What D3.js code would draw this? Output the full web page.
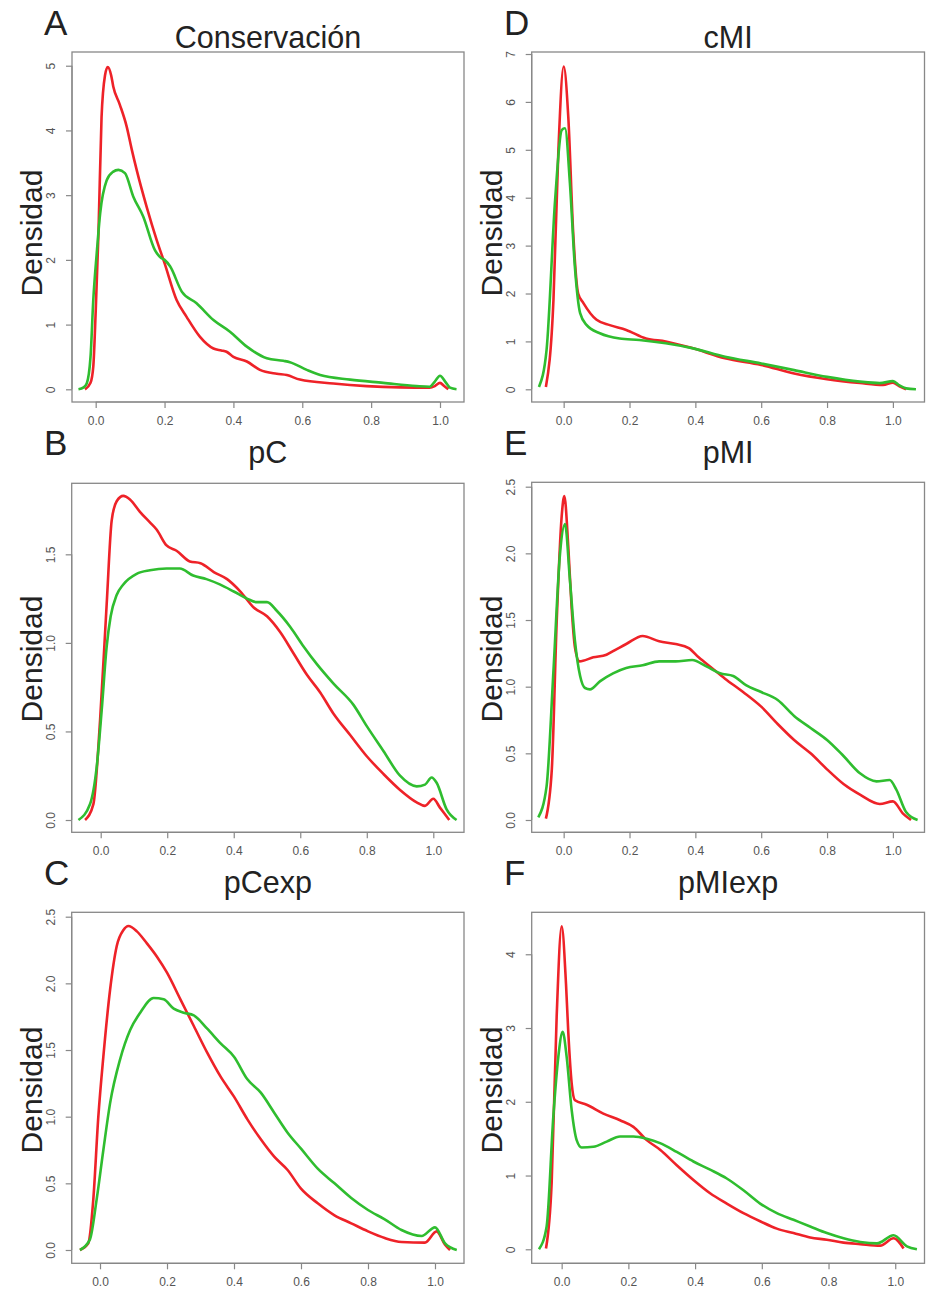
<!DOCTYPE html>
<html>
<head>
<meta charset="utf-8">
<script src="https://cdn.jsdelivr.net/npm/d3@7"></script>
<style>
  html, body { margin: 0; padding: 0; background: #ffffff; }
  svg { display: block; }
  text { font-family: "Liberation Sans", Arial, Helvetica, sans-serif; }
</style>
</head>
<body>
<svg id="chart" width="926" height="1295"></svg>
<script>
// ---------------- DATA ----------------
const panelLetters = ["A", "D", "B", "E", "C", "F"];
const panelTitles = ["Conservación", "cMI", "pC", "pMI", "pCexp", "pMIexp"];
const yAxisLabel = "Densidad";
const seriesNames = ["rojo", "verde"];

const xTickValues = [0, 0.2, 0.4, 0.6, 0.8, 1.0];
const yTicksConservacion = [0, 1, 2, 3, 4, 5];
const yTicksCMI = [0, 1, 2, 3, 4, 5, 6, 7];
const yTicksPC = [0, 0.5, 1.0, 1.5];
const yTicksPMI = [0, 0.5, 1.0, 1.5, 2.0, 2.5];
const yTicksPCexp = [0, 0.5, 1.0, 1.5, 2.0, 2.5];
const yTicksPMIexp = [0, 1, 2, 3, 4];

// [x, densidad]
const conservacionRojo = [[-0.031,0],[-0.015,0.1],[-0.007,0.35],[0.0,1.2],[0.008,2.4],[0.017,4.2],[0.027,4.85],[0.035,4.98],[0.045,4.85],[0.051,4.68],[0.07,4.4],[0.09,4.06],[0.105,3.7],[0.119,3.39],[0.148,2.82],[0.177,2.31],[0.2,1.95],[0.235,1.38],[0.264,1.12],[0.303,0.81],[0.342,0.63],[0.365,0.6],[0.38,0.58],[0.4,0.5],[0.439,0.43],[0.477,0.3],[0.526,0.24],[0.555,0.22],[0.593,0.15],[0.69,0.09],[0.787,0.05],[0.884,0.03],[0.97,0.025],[0.985,0.05],[1.0,0.1],[1.012,0.05],[1.024,0]];
const conservacionVerde = [[-0.05,0],[-0.035,0.03],[-0.026,0.09],[-0.015,0.5],[-0.007,1.38],[0.003,2.1],[0.013,2.72],[0.032,3.23],[0.05,3.36],[0.066,3.39],[0.085,3.34],[0.109,2.98],[0.138,2.67],[0.172,2.15],[0.19,2.03],[0.2,2.0],[0.216,1.9],[0.25,1.51],[0.293,1.33],[0.342,1.07],[0.39,0.89],[0.439,0.66],[0.497,0.48],[0.545,0.44],[0.564,0.42],[0.613,0.3],[0.652,0.22],[0.739,0.15],[0.835,0.1],[0.932,0.05],[0.97,0.04],[0.985,0.12],[1.0,0.21],[1.015,0.12],[1.029,0.025],[1.048,0]];

const cmiRojo = [[-0.054,0.05],[-0.031,1.87],[-0.016,5.0],[0.0,6.74],[0.014,5.69],[0.029,3.26],[0.044,2.0],[0.06,1.8],[0.1,1.45],[0.14,1.34],[0.19,1.24],[0.25,1.06],[0.31,1.0],[0.39,0.86],[0.49,0.65],[0.6,0.51],[0.7,0.33],[0.8,0.21],[0.9,0.13],[0.97,0.09],[1.0,0.14],[1.02,0.06],[1.04,0]];
const cmiVerde = [[-0.075,0.05],[-0.052,0.82],[-0.026,3.95],[-0.006,5.41],[0.004,5.45],[0.019,4.3],[0.034,2.56],[0.05,1.59],[0.07,1.34],[0.11,1.17],[0.17,1.06],[0.23,1.03],[0.31,0.96],[0.39,0.86],[0.49,0.68],[0.6,0.54],[0.7,0.4],[0.8,0.26],[0.9,0.16],[0.96,0.13],[1.0,0.17],[1.02,0.08],[1.04,0.02],[1.07,0]];

const pcRojo = [[-0.047,0],[-0.022,0.09],[-0.002,0.56],[0.018,1.22],[0.033,1.69],[0.048,1.8],[0.068,1.83],[0.088,1.81],[0.118,1.74],[0.148,1.68],[0.168,1.64],[0.198,1.55],[0.228,1.52],[0.268,1.46],[0.3,1.45],[0.34,1.4],[0.38,1.36],[0.42,1.29],[0.46,1.2],[0.5,1.15],[0.54,1.06],[0.58,0.94],[0.62,0.82],[0.66,0.72],[0.7,0.6],[0.75,0.48],[0.8,0.36],[0.85,0.26],[0.9,0.17],[0.95,0.1],[0.975,0.08],[1.0,0.12],[1.02,0.07],[1.048,0]];
const pcVerde = [[-0.067,0],[-0.032,0.09],[-0.012,0.3],[0.003,0.62],[0.018,0.98],[0.03,1.15],[0.048,1.27],[0.068,1.33],[0.108,1.39],[0.148,1.41],[0.198,1.42],[0.238,1.42],[0.278,1.38],[0.318,1.36],[0.358,1.33],[0.4,1.29],[0.44,1.25],[0.47,1.23],[0.5,1.23],[0.53,1.18],[0.57,1.09],[0.61,0.98],[0.65,0.88],[0.7,0.77],[0.76,0.65],[0.8,0.53],[0.85,0.39],[0.9,0.25],[0.95,0.19],[0.975,0.2],[0.995,0.24],[1.01,0.21],[1.04,0.06],[1.07,0]];

const pmiRojo = [[-0.054,0.01],[-0.036,0.38],[-0.021,1.5],[-0.006,2.28],[0.002,2.43],[0.014,2.05],[0.024,1.6],[0.034,1.3],[0.048,1.19],[0.09,1.22],[0.13,1.24],[0.16,1.28],[0.19,1.32],[0.24,1.38],[0.29,1.34],[0.34,1.32],[0.38,1.29],[0.41,1.22],[0.45,1.14],[0.49,1.06],[0.545,0.96],[0.6,0.85],[0.65,0.72],[0.7,0.6],[0.75,0.5],[0.8,0.38],[0.85,0.27],[0.9,0.19],[0.96,0.12],[1.0,0.14],[1.03,0.05],[1.055,0]];
const pmiVerde = [[-0.077,0.02],[-0.052,0.25],[-0.031,1.12],[-0.011,2.0],[0.004,2.22],[0.019,1.8],[0.034,1.35],[0.05,1.08],[0.065,0.99],[0.08,0.98],[0.11,1.04],[0.15,1.1],[0.19,1.14],[0.24,1.16],[0.29,1.19],[0.34,1.19],[0.39,1.2],[0.435,1.15],[0.475,1.1],[0.515,1.08],[0.555,1.01],[0.6,0.96],[0.65,0.9],[0.7,0.78],[0.75,0.69],[0.8,0.6],[0.85,0.48],[0.9,0.35],[0.95,0.29],[0.99,0.3],[1.01,0.23],[1.04,0.06],[1.075,0]];

const pcexpRojo = [[-0.06,0],[-0.035,0.05],[-0.02,0.38],[-0.005,1.0],[0.01,1.45],[0.03,1.95],[0.05,2.28],[0.07,2.4],[0.085,2.43],[0.11,2.39],[0.14,2.3],[0.17,2.2],[0.2,2.08],[0.24,1.88],[0.28,1.68],[0.32,1.48],[0.36,1.3],[0.4,1.15],[0.44,0.98],[0.48,0.83],[0.52,0.7],[0.56,0.6],[0.6,0.46],[0.65,0.35],[0.7,0.26],[0.75,0.2],[0.8,0.14],[0.85,0.09],[0.9,0.06],[0.97,0.055],[1.005,0.14],[1.03,0.04],[1.045,0]];
const pcexpVerde = [[-0.06,0],[-0.03,0.08],[-0.01,0.38],[0.01,0.75],[0.03,1.1],[0.06,1.43],[0.09,1.65],[0.12,1.78],[0.16,1.89],[0.19,1.88],[0.22,1.81],[0.25,1.78],[0.28,1.76],[0.32,1.66],[0.36,1.55],[0.4,1.45],[0.44,1.28],[0.48,1.18],[0.52,1.03],[0.56,0.88],[0.6,0.76],[0.65,0.61],[0.7,0.5],[0.75,0.39],[0.8,0.3],[0.85,0.23],[0.9,0.15],[0.96,0.105],[1.0,0.17],[1.03,0.05],[1.065,0]];

const pmiexpRojo = [[-0.047,0.01],[-0.03,0.9],[-0.015,3.15],[0.0,4.38],[0.013,3.6],[0.02,2.93],[0.03,2.25],[0.04,2.02],[0.075,1.96],[0.125,1.84],[0.175,1.75],[0.215,1.66],[0.255,1.48],[0.295,1.35],[0.345,1.14],[0.395,0.94],[0.445,0.76],[0.495,0.62],[0.545,0.49],[0.595,0.38],[0.645,0.28],[0.695,0.22],[0.745,0.16],[0.795,0.13],[0.845,0.09],[0.895,0.07],[0.955,0.05],[0.995,0.15],[1.025,0.01]];
const pmiexpVerde = [[-0.068,0],[-0.045,0.31],[-0.025,1.8],[-0.01,2.61],[0.003,2.95],[0.015,2.61],[0.03,1.89],[0.045,1.48],[0.06,1.38],[0.095,1.39],[0.135,1.46],[0.175,1.53],[0.215,1.53],[0.255,1.5],[0.295,1.44],[0.345,1.32],[0.395,1.19],[0.445,1.08],[0.495,0.96],[0.545,0.8],[0.595,0.62],[0.645,0.49],[0.695,0.4],[0.745,0.31],[0.795,0.22],[0.845,0.15],[0.895,0.1],[0.945,0.08],[0.995,0.19],[1.035,0.04],[1.065,0]];

// ---------------- LAYOUT ----------------
const COLORS = { rojo: "#ee2228", verde: "#2fbd2f" };
const layout = [
  { box: [72, 52, 464, 402],    xd: [-0.0688, 1.0697], yd: [-0.196, 5.212], yTicks: yTicksConservacion, fmt: d3.format("d"),   red: conservacionRojo, green: conservacionVerde, letterX: 44,  letterY: 35,  titleY: 48,  ylabX: 41.5,  ylabY: 233 },
  { box: [531.7, 52, 924.5, 402], xd: [-0.0971, 1.096], yd: [-0.265, 7.042], yTicks: yTicksCMI, fmt: d3.format("d"),          red: cmiRojo, green: cmiVerde,                   letterX: 504, letterY: 35,  titleY: 48,  ylabX: 501.5, ylabY: 233 },
  { box: [71.7, 483.3, 464, 832.3], xd: [-0.0872, 1.0923], yd: [-0.0694, 1.901], yTicks: yTicksPC, fmt: d3.format(".1f"),     red: pcRojo, green: pcVerde,                     letterX: 44,  letterY: 455, titleY: 463, ylabX: 41.5,  ylabY: 659 },
  { box: [531.7, 482.3, 924.5, 832.3], xd: [-0.0971, 1.096], yd: [-0.0923, 2.533], yTicks: yTicksPMI, fmt: d3.format(".1f"),  red: pmiRojo, green: pmiVerde,                   letterX: 504, letterY: 455, titleY: 463, ylabX: 501.5, ylabY: 659 },
  { box: [71.7, 912.3, 464, 1263.3], xd: [-0.0845, 1.0866], yd: [-0.0998, 2.533], yTicks: yTicksPCexp, fmt: d3.format(".1f"), red: pcexpRojo, green: pcexpVerde,               letterX: 44,  letterY: 885, titleY: 893, ylabX: 41.5,  ylabY: 1090 },
  { box: [531.7, 912.3, 924.5, 1263.3], xd: [-0.0898, 1.0877], yd: [-0.19, 4.569], yTicks: yTicksPMIexp, fmt: d3.format("d"),  red: pmiexpRojo, green: pmiexpVerde,            letterX: 504, letterY: 885, titleY: 893, ylabX: 501.5, ylabY: 1090 }
];

// ---------------- DRAW ----------------
const svg = d3.select("#chart");
svg.append("rect").attr("width", 926).attr("height", 1295).attr("fill", "#fff");

layout.forEach((p, i) => {
  const [x0, y0, x1, y1] = p.box;
  const x = d3.scaleLinear().domain(p.xd).range([x0, x1]);
  const y = d3.scaleLinear().domain(p.yd).range([y1, y0]);
  const g = svg.append("g");

  // x axis (ticks below the box)
  const xAxis = d3.axisBottom(x).tickValues(xTickValues).tickFormat(d3.format(".1f")).tickSize(6).tickPadding(8);
  const gx = g.append("g").attr("transform", `translate(0,${y1})`).call(xAxis);
  gx.select(".domain").attr("d", `M${x(xTickValues[0])},0H${x(xTickValues[xTickValues.length-1])}`).attr("stroke", "#888").attr("stroke-width", 1.2);
  gx.selectAll(".tick line").attr("stroke", "#888").attr("stroke-width", 1.2);
  gx.selectAll(".tick text").attr("fill", "#555").attr("font-size", 12).attr("font-family", "Liberation Sans, Arial, sans-serif");

  // y axis (ticks left of the box, labels rotated)
  const yAxis = d3.axisLeft(y).tickValues(p.yTicks).tickFormat(p.fmt).tickSize(6).tickPadding(0);
  const gy = g.append("g").attr("transform", `translate(${x0},0)`).call(yAxis);
  gy.select(".domain").attr("d", `M0,${y(p.yTicks[0])}V${y(p.yTicks[p.yTicks.length-1])}`).attr("stroke", "#888").attr("stroke-width", 1.2);
  gy.selectAll(".tick line").attr("stroke", "#888").attr("stroke-width", 1.2);
  gy.selectAll(".tick text")
    .attr("fill", "#555").attr("font-size", 12).attr("font-family", "Liberation Sans, Arial, sans-serif")
    .attr("x", null).attr("dy", null)
    .attr("text-anchor", "middle")
    .attr("transform", "translate(-17,0) rotate(-90)");

  // box
  g.append("rect").attr("x", x0).attr("y", y0).attr("width", x1 - x0).attr("height", y1 - y0)
    .attr("fill", "none").attr("stroke", "#888").attr("stroke-width", 1.3);

  // curves
  const line = d3.line().x(d => x(d[0])).y(d => y(d[1])).curve(d3.curveMonotoneX);
  g.append("path").datum(p.red).attr("d", line).attr("fill", "none")
    .attr("stroke", COLORS.rojo).attr("stroke-width", 2.6).attr("stroke-linejoin", "round");
  g.append("path").datum(p.green).attr("d", line).attr("fill", "none")
    .attr("stroke", COLORS.verde).attr("stroke-width", 2.6).attr("stroke-linejoin", "round");

  // title
  g.append("text").attr("x", (x0 + x1) / 2).attr("y", p.titleY).attr("text-anchor", "middle")
    .attr("font-size", 30.5).attr("fill", "#222").text(panelTitles[i]);
  // panel letter
  g.append("text").attr("x", p.letterX).attr("y", p.letterY)
    .attr("font-size", 35).attr("fill", "#222").text(panelLetters[i]);
  // y label
  g.append("text").attr("transform", `translate(${p.ylabX},${p.ylabY}) rotate(-90)`)
    .attr("text-anchor", "middle").attr("font-size", 30).attr("fill", "#222").text(yAxisLabel);
});
</script>
</body>
</html>
